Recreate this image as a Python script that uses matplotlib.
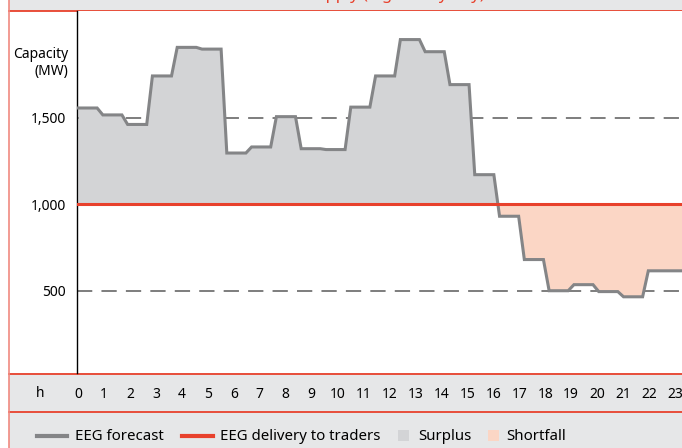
import matplotlib.pyplot as plt
from matplotlib.patches import Rectangle
from matplotlib.lines import Line2D
import numpy as np

plt.rcParams['font.family'] = ['Noto Sans', 'DejaVu Sans']

# hourly EEG forecast (MW)
forecast = [1555, 1515, 1460, 1740, 1905, 1895, 1295, 1330, 1505, 1320,
            1315, 1560, 1740, 1950, 1880, 1690, 1170, 930, 680, 500,
            535, 495, 465, 615]
delivery = 1000
hours = list(range(24))
hour_labels = [str(h) for h in hours]
yticks = [500, 1000, 1500]
ytick_labels = ['500', '1,000', '1,500']

red = '#e8412c'
band = '#e6e7e8'
line_grey = '#848587'
surplus_col = '#d3d4d6'
short_col = '#fbd6c5'

W, H = 682, 448
fig = plt.figure(figsize=(W / 100, H / 100), dpi=100)

def fx(px):
    return px / W

def fy(py):
    return 1 - py / H

# background bands
fig.patches.append(Rectangle((fx(9), fy(11)), 1, 11 / H, transform=fig.transFigure,
                             facecolor=band, edgecolor='none', zorder=-2))
fig.patches.append(Rectangle((fx(9), fy(448)), 1, 75 / H, transform=fig.transFigure,
                             facecolor=band, edgecolor='none', zorder=-2))
for py in (11, 374, 412):
    fig.add_artist(Line2D([fx(9), 1], [fy(py), fy(py)], transform=fig.transFigure,
                          color=red, lw=1.3, zorder=-1))
fig.add_artist(Line2D([fx(8.5), fx(8.5)], [0, 1], transform=fig.transFigure,
                      color='#f08a80', lw=1.2, zorder=-1))

# cut-off title at the very top
fig.text(fx(485), fy(-1), 'EEG forecast and contracted supply (e.g. windy day)',
         color=red, fontsize=12, ha='right', va='baseline')

ax = fig.add_axes([fx(77), fy(373), fx(682 - 77), (373 - 11) / H])
ax.set_facecolor('white')

# stepped curve with short ramps between the hourly levels
step = 24.8 / 25.96
xs, ys = [], []
for k, v in enumerate(forecast):
    xs += [k * step, k * step + 0.77 * step]
    ys += [v, v]
xs[-1] = 24
xs = np.array(xs)
ys = np.array(ys)

ax.axhline(1500, color='#5a5a5a', lw=1.1, ls=(0, (10, 6)), zorder=1)
ax.axhline(500, color='#5a5a5a', lw=1.1, ls=(0, (10, 6)), zorder=1)
ax.fill_between(xs, ys, delivery, where=ys >= delivery, interpolate=True,
                color=surplus_col, lw=0, zorder=2)
ax.fill_between(xs, ys, delivery, where=ys <= delivery, interpolate=True,
                color=short_col, lw=0, zorder=2)
ax.plot(xs, ys, color=line_grey, lw=2.2, zorder=3, solid_joinstyle='miter')
ax.axhline(delivery, color=red, lw=2.2, zorder=4)

ax.set_xlim(-0.04, 23.27)
ax.set_ylim(25, 2115)
for s in ('top', 'right', 'bottom'):
    ax.spines[s].set_visible(False)
ax.spines['left'].set_linewidth(1)
ax.set_xticks(hours)
ax.set_xticklabels(hour_labels, fontsize=10)
ax.set_yticks(yticks)
ax.set_yticklabels(ytick_labels, fontsize=10)
ax.tick_params(length=0)
ax.tick_params(axis='x', pad=10)
ax.tick_params(axis='y', pad=8)

fig.text(fx(40), fy(393), 'h', fontsize=10, ha='center', va='center')
fig.text(fx(68), fy(63), 'Capacity\n(MW)', fontsize=10, ha='right', va='center',
         multialignment='right', linespacing=1.2)

# legend
ly = fy(436)
fs = 10.8
fig.add_artist(Line2D([fx(37), fx(67)], [ly, ly], transform=fig.transFigure,
                      color=line_grey, lw=3))
fig.text(fx(75), ly, 'EEG forecast', fontsize=fs, va='center')
fig.add_artist(Line2D([fx(182), fx(213)], [ly, ly], transform=fig.transFigure,
                      color=red, lw=3))
fig.text(fx(220), ly, 'EEG delivery to traders', fontsize=fs, va='center')
fig.patches.append(Rectangle((fx(398), fy(441)), 11 / W, 11 / H, transform=fig.transFigure,
                             facecolor=surplus_col, edgecolor='none'))
fig.text(fx(418), ly, 'Surplus', fontsize=fs, va='center')
fig.patches.append(Rectangle((fx(488), fy(441)), 11 / W, 11 / H, transform=fig.transFigure,
                             facecolor=short_col, edgecolor='none'))
fig.text(fx(506), ly, 'Shortfall', fontsize=fs, va='center')

fig.savefig('out.png', dpi=100)
